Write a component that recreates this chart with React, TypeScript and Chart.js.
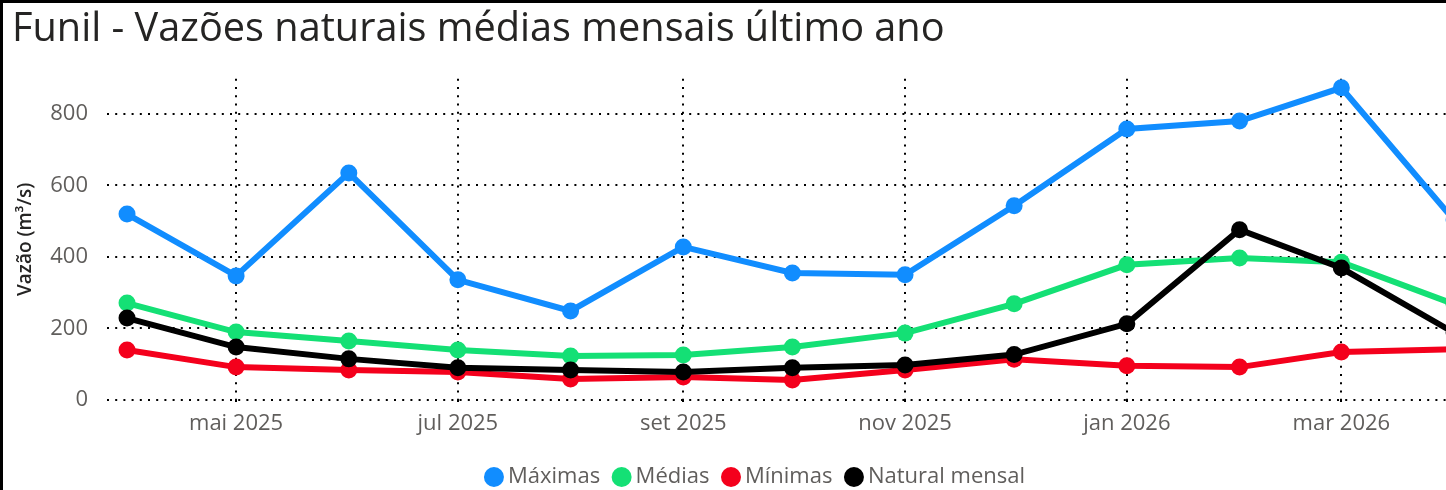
import React, { useEffect, useRef } from "react";
import { Chart, registerables } from "chart.js";

Chart.register(...registerables);

const months = ["2025-04", "2025-05", "2025-06", "2025-07", "2025-08", "2025-09", "2025-10", "2025-11", "2025-12", "2026-01", "2026-02", "2026-03", "2026-04"];
const maximas = [520, 347, 635, 336, 249, 428, 355, 350, 543, 758, 780, 873, 503];
const medias = [271, 190, 165, 140, 123, 126, 148, 187, 269, 378, 397, 385, 268];
const minimas = [140, 92, 84, 78, 59, 64, 56, 84, 114, 96, 92, 134, 142];
const natural = [229, 148, 115, 90, 84, 78, 90, 98, 127, 213, 476, 369, 188];

const xTickMonths = ["2025-05", "2025-07", "2025-09", "2025-11", "2026-01", "2026-03"];
const xTickLabels = ["mai 2025", "jul 2025", "set 2025", "nov 2025", "jan 2026", "mar 2026"];
const yTicks = [0, 200, 400, 600, 800];

const BASE = Date.UTC(2025, 3, 1);
const dayIndex = (ym: string) => {
  const [y, m] = ym.split("-").map(Number);
  return (Date.UTC(y, m - 1, 1) - BASE) / 86400000;
};

const FONT = "'Open Sans', sans-serif";
const DASH = [2, 6.2];
const GRID = {
  color: "#000000",
  lineWidth: 2,
  borderDash: DASH,
  tickBorderDash: DASH,
  tickColor: "#000000",
  tickWidth: 2,
};
const BORDER = { display: false, dash: DASH };

export default function App() {
  const ref = useRef<HTMLCanvasElement | null>(null);
  useEffect(() => {
    if (!ref.current) return;
    const mk = (label: string, data: number[], color: string, order: number) => ({
      label,
      data: months.map((m, i) => ({ x: dayIndex(m), y: data[i] })),
      borderColor: color,
      backgroundColor: color,
      pointBackgroundColor: color,
      pointBorderColor: color,
      pointBorderWidth: 0,
      pointRadius: 8.5,
      pointHoverRadius: 8.5,
      borderWidth: 6,
      tension: 0,
      order,
    });
    const chart = new Chart(ref.current, {
      type: "line",
      data: {
        datasets: [
          mk("Máximas", maximas, "#118DFF", 3),
          mk("Médias", medias, "#14E075", 2),
          mk("Mínimas", minimas, "#F4001C", 1),
          mk("Natural mensal", natural, "#000000", 0),
        ],
      },
      options: {
        animation: false,
        responsive: false,
        devicePixelRatio: 1,
        events: [],
        layout: { padding: { left: 9, right: 0, top: 0, bottom: -8 } },
        plugins: {
          tooltip: { enabled: false },
          title: {
            display: true,
            text: "Funil - Vazões naturais médias mensais último ano",
            align: "start",
            color: "#252423",
            font: { family: FONT, size: 39.7, weight: "normal" },
            padding: { top: 2.5, bottom: 25.7 },
          },
          legend: {
            display: true,
            position: "bottom",
            labels: {
              usePointStyle: true,
              pointStyle: "circle",
              boxWidth: 6,
              boxHeight: 14.14,
              padding: 18.5,
              color: "#605E5C",
              font: { family: FONT, size: 22 },
              sort: (a: any, b: any) => a.datasetIndex - b.datasetIndex,
            },
          },
        },
        scales: {
          x: {
            type: "linear",
            min: -5.51,
            max: 376.4,
            border: BORDER,
            grid: { ...GRID, drawTicks: true, tickLength: 8 },
            afterBuildTicks: (scale: any) => {
              scale.ticks = xTickMonths.map((m) => ({ value: dayIndex(m) }));
            },
            afterFit: (scale: any) => {
              scale.height = 47.5;
            },
            ticks: {
              autoSkip: false,
              maxRotation: 0,
              padding: 3,
              color: "#605E5C",
              font: { family: FONT, size: 22 },
              callback: (_v: any, i: number) => xTickLabels[i],
            },
          },
          y: {
            min: 0,
            max: 898,
            border: BORDER,
            grid: { ...GRID, drawTicks: false },
            afterBuildTicks: (scale: any) => {
              scale.ticks = yTicks.map((v) => ({ value: v }));
            },
            afterFit: (scale: any) => {
              scale.width = 95;
            },
            ticks: {
              padding: 19,
              color: "#605E5C",
              font: { family: FONT, size: 22 },
            },
            title: {
              display: true,
              text: "Vazão (m³/s)",
              color: "#252423",
              font: { family: FONT, size: 19, weight: "600" },
              padding: { top: 2, bottom: 0 },
            },
          },
        },
      },
    } as any);
    return () => chart.destroy();
  }, []);

  return (
    <div
      style={{
        position: "fixed",
        left: 0,
        top: 0,
        width: 1446,
        height: 490,
        boxSizing: "border-box",
        borderTop: "3px solid #000",
        borderLeft: "3px solid #000",
        background: "#fff",
        overflow: "hidden",
      }}
    >
      <canvas ref={ref} width={1501} height={487} style={{ display: "block" }} />
    </div>
  );
}
